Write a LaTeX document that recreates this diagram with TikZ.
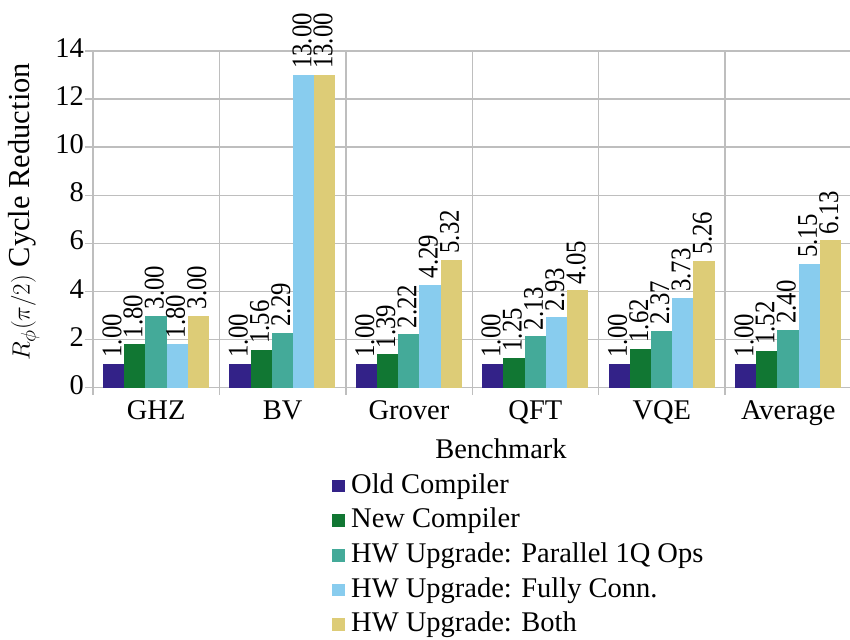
\documentclass[tikz,border=0pt]{standalone}
\usepackage{fontspec}
\setmainfont{Liberation Serif}
\definecolor{cOld}{HTML}{332288}
\definecolor{cNew}{HTML}{117733}
\definecolor{cPar}{HTML}{44AA99}
\definecolor{cFull}{HTML}{88CCEE}
\definecolor{cBoth}{HTML}{DDCC77}
\definecolor{gridgray}{RGB}{190,190,190}
\begin{document}
\begin{tikzpicture}[x=1pt,y=-1pt,
  gridline/.style={draw=gridgray,line width=1.4pt},
  lbl/.style={font=\fontsize{28.5}{32}\selectfont,inner sep=0pt},
  barlbl/.style={lbl,rotate=90,anchor=west},
  legbox/.style={inner sep=0pt,minimum width=13pt,minimum height=12.5pt}]
\useasboundingbox (0,0) rectangle (850,639);
% value axis: grid lines and tick labels
\foreach \v in {0,2,...,14}{
  \draw[gridline] (85,{387.7-24.05*\v}) -- (853,{387.7-24.05*\v});
  \node[lbl,anchor=base east] (tick\v) at (84,{387.7-24.05*\v+6.5}) {\v};
}
% category separators
\foreach \g in {0,...,6}{
  \draw[gridline] ({93+126.4*\g},51.7) -- ({93+126.4*\g},395);
}
% bars with their value labels
\foreach \g/\a/\b/\c/\d/\e in {0/1.00/1.80/3.00/1.80/3.00,
    1/1.00/1.56/2.29/13.00/13.00, 2/1.00/1.39/2.22/4.29/5.32,
    3/1.00/1.25/2.13/2.93/4.05, 4/1.00/1.62/2.37/3.73/5.26,
    5/1.00/1.52/2.40/5.15/6.13}{
  \foreach \i/\v/\col in {0/\a/cOld,1/\b/cNew,2/\c/cPar,3/\d/cFull,4/\e/cBoth}{
    \fill[\col] ({93+126.4*\g+10+21.2*\i},387.7) rectangle ++(21.2,{-24.05*\v});
    \node[barlbl] (val\g\i) at ({93+126.4*\g+10+21.2*\i+9},{387.7-24.05*\v-6}) {\scalebox{0.87}[1]{\v}};
  }
}
% category labels
\foreach \g/\t in {0/GHZ,1/BV,2/Grover,3/QFT,4/VQE,5/Average}{
  \node[lbl,anchor=base] (cat\g) at ({93+126.4*\g+63.2},419) {\t};
}
% axis titles
\node[lbl,anchor=base] (xtitle) at (501,458) {Benchmark};
\node[lbl,rotate=90,font=\fontsize{30.5}{34}\selectfont] (ytitle) at (24,212) {$R_\phi(\pi/2)$ Cycle Reduction};
% legend
\foreach \k/\col/\t in {0/cOld/Old Compiler,1/cNew/New Compiler,
    2/cPar/HW Upgrade: Parallel 1Q Ops,3/cFull/HW Upgrade: Fully Conn.,
    4/cBoth/HW Upgrade: Both}{
  \node[legbox,fill=\col,anchor=south west] (key\k) at (332,{492.5+34.6*\k}) {};
  \node[lbl,anchor=base west] (leg\k) at (351,{493.3+34.6*\k}) {\t};
}
\end{tikzpicture}
\end{document}
